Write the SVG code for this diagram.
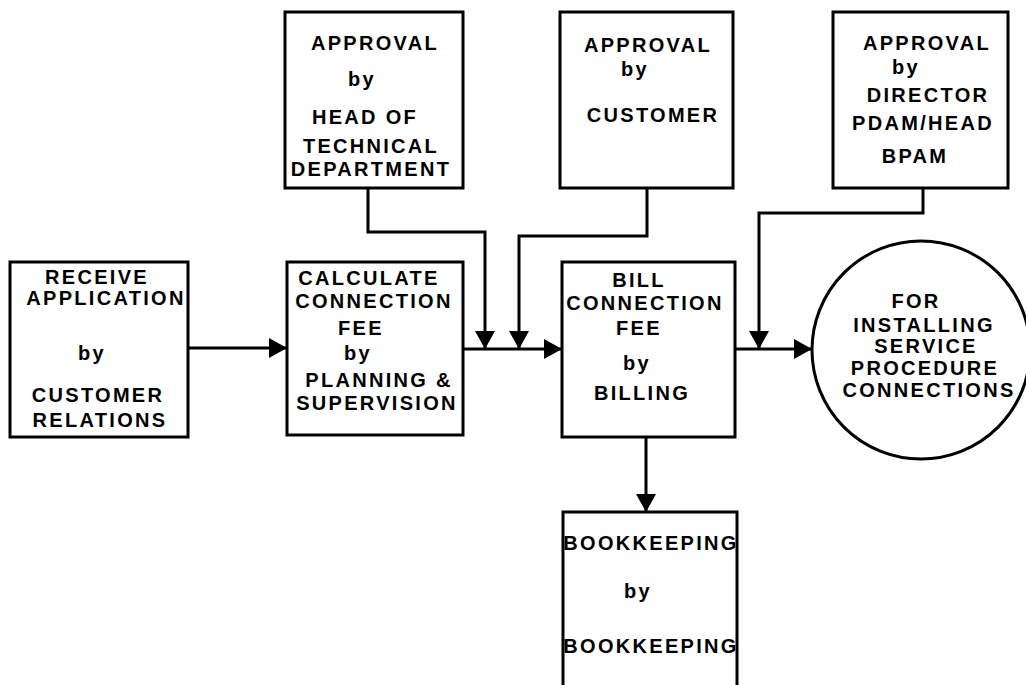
<svg xmlns="http://www.w3.org/2000/svg" width="1026" height="685" viewBox="0 0 1026 685">
  <style>
    .box { fill: #fff; stroke: #000; stroke-width: 3; }
    .lbl { font-family: "Liberation Sans", Arial, sans-serif; font-weight: bold; font-size: 20px; letter-spacing: 2.3px; text-anchor: middle; fill: #000; }
    .wire { fill: none; stroke: #000; stroke-width: 3; marker-end: url(#head); }
  </style>
  <defs>
    <marker id="head" markerUnits="userSpaceOnUse" markerWidth="20" markerHeight="20" refX="18" refY="10" orient="auto">
      <path d="M0,0 L18,10 L0,20 Z" fill="#000"/>
    </marker>
  </defs>
  <rect width="1026" height="685" fill="#fff"/>

  <g id="connectors">
    <path class="wire" d="M188,348 H287"/>
    <path class="wire" d="M463,349 H562"/>
    <path class="wire" d="M368,188 V232 H485 V349"/>
    <path class="wire" d="M647,188 V236 H519 V349"/>
    <path class="wire" d="M735,349 H812"/>
    <path class="wire" d="M923,188 V213 H759 V349"/>
    <path class="wire" d="M646,437 V512"/>
  </g>

  <g id="receive-application">
    <rect class="box" x="10" y="262" width="178" height="175"/>
    <text class="lbl" x="97" y="284">RECEIVE</text>
    <text class="lbl" x="106" y="305">APPLICATION</text>
    <text class="lbl" x="92" y="360">by</text>
    <text class="lbl" x="98" y="402">CUSTOMER</text>
    <text class="lbl" x="100" y="427">RELATIONS</text>
  </g>

  <g id="calculate-fee">
    <rect class="box" x="287" y="262" width="176" height="173"/>
    <text class="lbl" x="369" y="285">CALCULATE</text>
    <text class="lbl" x="374" y="308">CONNECTION</text>
    <text class="lbl" x="361" y="335">FEE</text>
    <text class="lbl" x="358" y="360">by</text>
    <text class="lbl" x="379" y="387">PLANNING &amp;</text>
    <text class="lbl" x="377" y="410">SUPERVISION</text>
  </g>

  <g id="approval-technical">
    <rect class="box" x="285" y="12" width="178" height="176"/>
    <text class="lbl" x="375" y="50">APPROVAL</text>
    <text class="lbl" x="362" y="86">by</text>
    <text class="lbl" x="365" y="124">HEAD OF</text>
    <text class="lbl" x="371" y="153">TECHNICAL</text>
    <text class="lbl" x="371" y="176">DEPARTMENT</text>
  </g>

  <g id="approval-customer">
    <rect class="box" x="560" y="12" width="173" height="176"/>
    <text class="lbl" x="648" y="52">APPROVAL</text>
    <text class="lbl" x="635" y="76">by</text>
    <text class="lbl" x="653" y="122">CUSTOMER</text>
  </g>

  <g id="approval-director">
    <rect class="box" x="833" y="12" width="175" height="176"/>
    <text class="lbl" x="927" y="50">APPROVAL</text>
    <text class="lbl" x="906" y="74">by</text>
    <text class="lbl" x="928" y="102">DIRECTOR</text>
    <text class="lbl" x="923" y="130">PDAM/HEAD</text>
    <text class="lbl" x="915" y="163">BPAM</text>
  </g>

  <g id="bill-fee">
    <rect class="box" x="562" y="262" width="173" height="175"/>
    <text class="lbl" x="639" y="287">BILL</text>
    <text class="lbl" x="645" y="310">CONNECTION</text>
    <text class="lbl" x="639" y="335">FEE</text>
    <text class="lbl" x="637" y="370">by</text>
    <text class="lbl" x="642" y="400">BILLING</text>
  </g>

  <g id="installing-service">
    <circle class="box" cx="921" cy="350" r="109"/>
    <text class="lbl" x="916" y="308">FOR</text>
    <text class="lbl" x="924" y="332">INSTALLING</text>
    <text class="lbl" x="926" y="353">SERVICE</text>
    <text class="lbl" x="925" y="375">PROCEDURE</text>
    <text class="lbl" x="929" y="397">CONNECTIONS</text>
  </g>

  <g id="bookkeeping">
    <rect class="box" x="563" y="512" width="174" height="200"/>
    <text class="lbl" x="651" y="550">BOOKKEEPING</text>
    <text class="lbl" x="638" y="598">by</text>
    <text class="lbl" x="651" y="653">BOOKKEEPING</text>
  </g>
</svg>
